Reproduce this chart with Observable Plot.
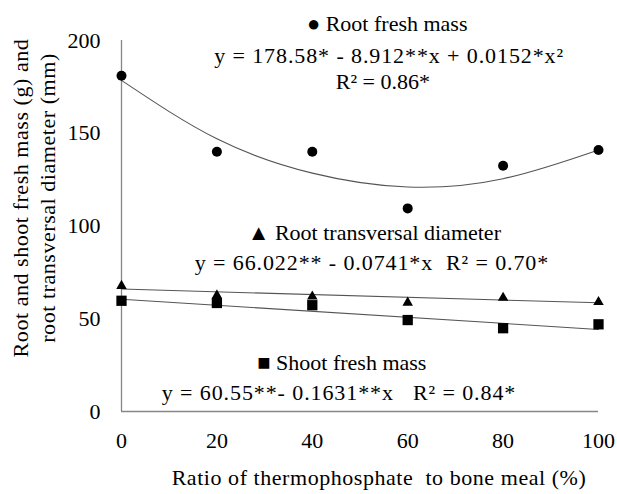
<!DOCTYPE html>
<html><head><meta charset="utf-8">
<script src="https://cdn.jsdelivr.net/npm/d3@7"></script>
<script src="https://cdn.jsdelivr.net/npm/@observablehq/plot@0.6"></script>
<style>body{margin:0;background:#fff} svg text{font-family: "Liberation Serif", "Times New Roman", Times, "DejaVu Serif", serif;}</style>
</head><body><div id="chart"></div>
<script>
// Ratio of thermophosphate to bone meal (%)
const ratio = [0, 20, 40, 60, 80, 100];
// Observed values
const rootFreshMass = [181, 140, 140, 109.5, 132.5, 141];
const rootDiameter = [67.7, 62.6, 62, 58.7, 61.3, 59];
const shootFreshMass = [59.7, 58.5, 57.3, 49.3, 44.9, 47];
// Fitted curves
const rootFreshFit = [178.5, 147, 128.5, 121, 125.5, 141];
const fitEnds = [0, 100];
const rootDiameterFit = [66.0, 58.6];
const shootFreshFit = [60.55, 44.24];
// Axis ticks
const xTicks = [0, 20, 40, 60, 80, 100];
const yTicks = [0, 50, 100, 150, 200];
// Labels
const yTitle = "Root and shoot fresh mass (g) and\nroot transversal diameter (mm)";
const xTitle = "Ratio of thermophosphate  to bone meal (%)";
const annotLabels = [
  "\u25CF Root fresh mass",
  "y = 178.58* - 8.912**x + 0.0152*x\u00B2",
  "R\u00B2 = 0.86*",
  "\u25B2 Root transversal diameter",
  "y = 66.022** - 0.0741*x  R\u00B2 = 0.70*",
  "\u25A0 Shoot fresh mass",
  "y = 60.55**- 0.1631**x   R\u00B2 = 0.84*"
];
const annotX = [55.7, 56.1, 54.8, 53, 52.5, 46.2, 45.6];
const annotY = [209, 191.9, 177.4, 96.5, 80.3, 26.4, 10.2];

const pts = (xs, ys) => xs.map((x, i) => ({x, y: ys[i]}));
const annots = annotLabels.map((t, i) => ({t, x: annotX[i], y: annotY[i]}));

const chart = Plot.plot({
  width: 617, height: 494,
  marginLeft: 121, marginRight: 19, marginTop: 40, marginBottom: 83,
  x: {domain: [0, 100]},
  y: {domain: [0, 200]},
  style: "font-size: 22px; color: black; background: white; overflow: visible;",
  marks: [
    Plot.ruleX([0], {stroke: "#868686", strokeWidth: 1.3}),
    Plot.ruleY([0], {stroke: "#868686", strokeWidth: 1.3}),
    Plot.axisX({ticks: xTicks, tickSize: 0, tickPadding: 21, label: null, fontSize: 22, tickFormat: d => d}),
    Plot.axisY({ticks: yTicks, tickSize: 0, tickPadding: 21, label: null, fontSize: 22, tickFormat: d => d}),
    Plot.line(pts(ratio, rootFreshFit), {x: "x", y: "y", curve: "natural", stroke: "#555", strokeWidth: 1.1}),
    Plot.line(pts(fitEnds, rootDiameterFit), {x: "x", y: "y", stroke: "#555", strokeWidth: 1.1}),
    Plot.line(pts(fitEnds, shootFreshFit), {x: "x", y: "y", stroke: "#555", strokeWidth: 1.1}),
    Plot.dot(pts(ratio, rootFreshMass), {x: "x", y: "y", r: 5, fill: "black", symbol: "circle"}),
    Plot.dot(pts(ratio, shootFreshMass), {x: "x", y: "y", r: 5.8, fill: "black", symbol: "square"}),
    Plot.dot(pts(ratio, rootDiameter), {x: "x", y: "y", r: 3.9, fill: "black", symbol: "triangle"}),
    Plot.text(annots, {x: "x", y: "y", text: "t", fontSize: 22, fill: "black"}),
    Plot.text([yTitle], {frameAnchor: "left", textAnchor: "middle", rotate: -90, dx: -89, dy: -28, text: d => d, lineHeight: 1.23, fontSize: 22, fill: "black"}),
    Plot.text([xTitle], {frameAnchor: "bottom", textAnchor: "middle", dx: 19, dy: 73, text: d => d, fontSize: 22, fill: "black"})
  ]
});
// widen spacing of the equation lines and axis titles to match the reference text widths
d3.select(chart).selectAll("text").each(function() {
  const t = this.textContent;
  if (t.startsWith("y = ")) this.style.letterSpacing = "0.9px";
  else if (t === xTitle) this.style.letterSpacing = "0.55px";
  else if (t.startsWith("Root and shoot") || t.startsWith("root transversal")) this.style.letterSpacing = "0.55px";
});
document.getElementById("chart").appendChild(chart);
</script>
</body></html>
